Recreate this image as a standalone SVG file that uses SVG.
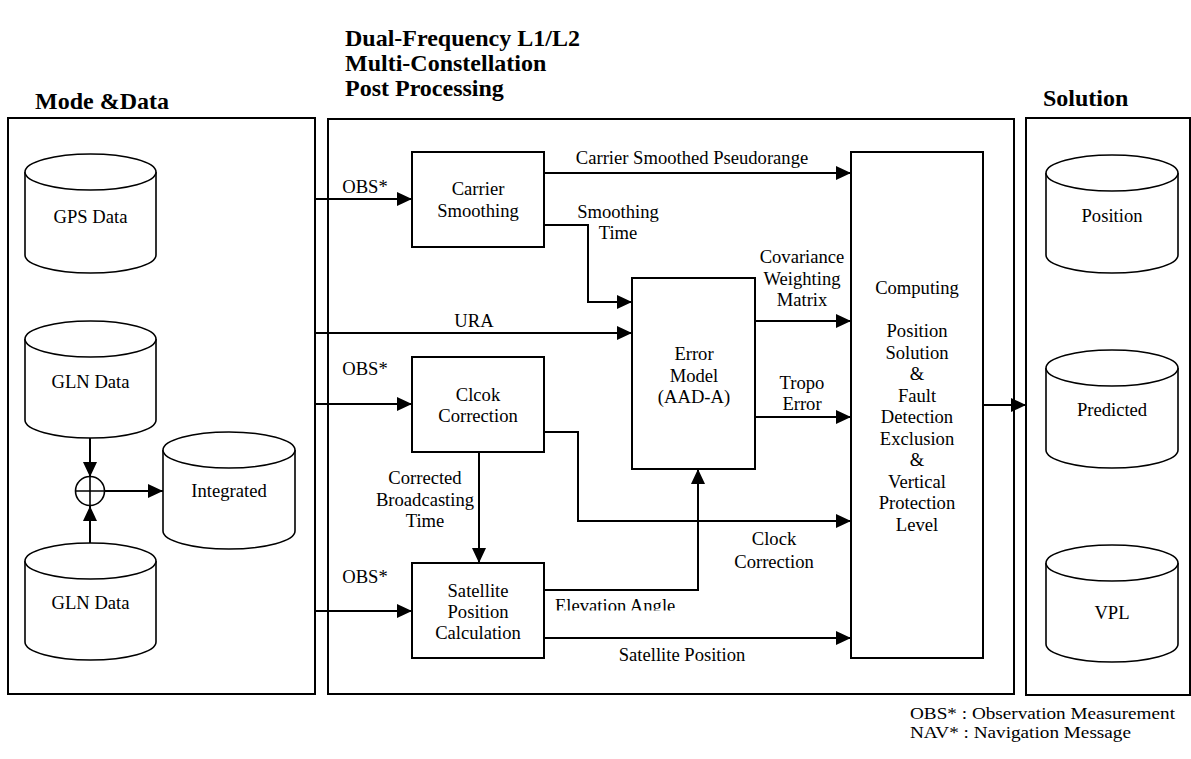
<svg xmlns="http://www.w3.org/2000/svg" width="1191" height="759" viewBox="0 0 1191 759">
<style>
  text { font-family: "Liberation Serif", "Times New Roman", serif; fill: #000; }
  .t { font-size: 18.6px; }
  .c { text-anchor: middle; }
  .title { font-size: 24px; font-weight: bold; }
  .legend { font-size: 16.5px; }
  .panel { fill: none; stroke: #000; stroke-width: 2; }
  .box { fill: #fff; stroke: #000; stroke-width: 2; }
  .cyl { fill: #fff; stroke: #000; stroke-width: 1.6; }
  .ar { fill: none; stroke: #000; stroke-width: 2; marker-end: url(#ah); }
</style>
<defs>
  <marker id="ah" markerUnits="userSpaceOnUse" markerWidth="16" markerHeight="15" refX="15" refY="7" orient="auto" viewBox="0 0 16 15">
    <path d="M0,0 L15,7 L0,14 Z" fill="#000"/>
  </marker>
  <clipPath id="elevClip"><rect x="540" y="590" width="160" height="20.5"/></clipPath>
</defs>

<rect width="1191" height="759" fill="#fff"/>

<!-- Titles -->
<g id="titles">
  <text class="title" x="345" y="46">Dual-Frequency L1/L2</text>
  <text class="title" x="345" y="71">Multi-Constellation</text>
  <text class="title" x="345" y="96">Post Processing</text>
  <text class="title" x="35" y="109">Mode &amp;Data</text>
  <text class="title" x="1043" y="106">Solution</text>
</g>

<!-- Panels -->
<g id="panel-mode-data"><rect class="panel" x="8" y="118" width="307" height="576"/></g>
<g id="panel-processing"><rect class="panel" x="328" y="119" width="686" height="575"/></g>
<g id="panel-solution"><rect class="panel" x="1026" y="118" width="164" height="577"/></g>

<!-- Connectors -->
<g id="connectors">
  <path class="ar" d="M90,438 V477"/>
  <path class="ar" d="M90,543 V506"/>
  <path class="ar" d="M105,491 H163"/>
  <path class="ar" d="M315,199 H412"/>
  <path class="ar" d="M315,333 H632"/>
  <path class="ar" d="M315,404 H412"/>
  <path class="ar" d="M315,611 H412"/>
  <path class="ar" d="M544,173 H851"/>
  <path class="ar" d="M544,225 H588 V302 H632"/>
  <path class="ar" d="M755,321 H851"/>
  <path class="ar" d="M755,417 H851"/>
  <path class="ar" d="M544,432 H578 V521 H851"/>
  <path class="ar" d="M479,452 V563"/>
  <path class="ar" d="M544,590 H698 V469"/>
  <path class="ar" d="M544,638 H851"/>
  <path class="ar" d="M983,405 H1026"/>
  <text class="t c" x="365" y="193">OBS*</text>
  <text class="t c" x="365" y="375">OBS*</text>
  <text class="t c" x="365" y="583">OBS*</text>
  <text class="t c" x="474" y="327">URA</text>
  <text class="t c" x="692" y="164">Carrier Smoothed Pseudorange</text>
  <text class="t c" x="618" y="218">Smoothing</text>
  <text class="t c" x="618" y="239">Time</text>
  <text class="t c" x="802" y="263">Covariance</text>
  <text class="t c" x="802" y="284.5">Weighting</text>
  <text class="t c" x="802" y="306">Matrix</text>
  <text class="t c" x="802" y="389">Tropo</text>
  <text class="t c" x="802" y="410">Error</text>
  <text class="t c" x="425" y="484">Corrected</text>
  <text class="t c" x="425" y="506">Broadcasting</text>
  <text class="t c" x="425" y="527">Time</text>
  <text class="t" x="555" y="612" clip-path="url(#elevClip)">Elevation Angle</text>
  <text class="t c" x="774" y="545">Clock</text>
  <text class="t c" x="774" y="568">Correction</text>
  <text class="t c" x="682" y="661">Satellite Position</text>
</g>

<!-- Left data cylinders -->
<g id="gps-data">
  <path class="cyl" d="M25,172 A65.5,18 0 0,1 156,172 V255 A65.5,18 0 0,1 25,255 Z"/>
  <path class="cyl" d="M25,172 A65.5,18 0 0,0 156,172"/>
  <text class="t c" x="90.5" y="223">GPS Data</text>
</g>
<g id="gln-data-1">
  <path class="cyl" d="M25,339 A65.5,18 0 0,1 156,339 V420 A65.5,18 0 0,1 25,420 Z"/>
  <path class="cyl" d="M25,339 A65.5,18 0 0,0 156,339"/>
  <text class="t c" x="90.5" y="388">GLN Data</text>
</g>
<g id="integrator">
  <circle cx="90" cy="491" r="14.5" fill="#fff" stroke="#000" stroke-width="1.6"/>
  <path d="M75.5,491 H104.5 M90,476.5 V505.5" stroke="#000" stroke-width="1.6"/>
</g>
<g id="integrated">
  <path class="cyl" d="M163,450 A66,18 0 0,1 295,450 V531 A66,18 0 0,1 163,531 Z"/>
  <path class="cyl" d="M163,450 A66,18 0 0,0 295,450"/>
  <text class="t c" x="229" y="497">Integrated</text>
</g>
<g id="gln-data-2">
  <path class="cyl" d="M25,561 A65.5,18 0 0,1 156,561 V642 A65.5,18 0 0,1 25,642 Z"/>
  <path class="cyl" d="M25,561 A65.5,18 0 0,0 156,561"/>
  <text class="t c" x="90.5" y="609">GLN Data</text>
</g>

<!-- Processing blocks -->
<g id="carrier-smoothing">
  <rect class="box" x="412" y="152" width="132" height="95"/>
  <text class="t c" x="478" y="195">Carrier</text>
  <text class="t c" x="478" y="217">Smoothing</text>
</g>
<g id="clock-correction">
  <rect class="box" x="412" y="357" width="132" height="95"/>
  <text class="t c" x="478" y="401">Clcok</text>
  <text class="t c" x="478" y="422">Correction</text>
</g>
<g id="satellite-position">
  <rect class="box" x="412" y="563" width="132" height="95"/>
  <text class="t c" x="478" y="597">Satellite</text>
  <text class="t c" x="478" y="618">Position</text>
  <text class="t c" x="478" y="639">Calculation</text>
</g>
<g id="error-model">
  <rect class="box" x="632" y="278" width="123" height="191"/>
  <text class="t c" x="694" y="360">Error</text>
  <text class="t c" x="694" y="381.5">Model</text>
  <text class="t c" x="694" y="403">(AAD-A)</text>
</g>
<g id="computing">
  <rect class="box" x="851" y="152" width="132" height="506"/>
  <text class="t c" x="917" y="294">Computing</text>
  <text class="t c" x="917" y="337">Position</text>
  <text class="t c" x="917" y="358.5">Solution</text>
  <text class="t c" x="917" y="380">&amp;</text>
  <text class="t c" x="917" y="401.5">Fault</text>
  <text class="t c" x="917" y="423">Detection</text>
  <text class="t c" x="917" y="444.5">Exclusion</text>
  <text class="t c" x="917" y="466">&amp;</text>
  <text class="t c" x="917" y="487.5">Vertical</text>
  <text class="t c" x="917" y="509">Protection</text>
  <text class="t c" x="917" y="530.5">Level</text>
</g>

<!-- Solution cylinders -->
<g id="position">
  <path class="cyl" d="M1046,173 A66,18 0 0,1 1178,173 V255 A66,18 0 0,1 1046,255 Z"/>
  <path class="cyl" d="M1046,173 A66,18 0 0,0 1178,173"/>
  <text class="t c" x="1112" y="222">Position</text>
</g>
<g id="predicted">
  <path class="cyl" d="M1046,368 A66,18 0 0,1 1178,368 V450 A66,18 0 0,1 1046,450 Z"/>
  <path class="cyl" d="M1046,368 A66,18 0 0,0 1178,368"/>
  <text class="t c" x="1112" y="416">Predicted</text>
</g>
<g id="vpl">
  <path class="cyl" d="M1046,563 A66,18 0 0,1 1178,563 V644 A66,18 0 0,1 1046,644 Z"/>
  <path class="cyl" d="M1046,563 A66,18 0 0,0 1178,563"/>
  <text class="t c" x="1112" y="619">VPL</text>
</g>

<!-- Legend -->
<g id="legend">
  <text class="legend" x="910" y="719" textLength="265" lengthAdjust="spacingAndGlyphs">OBS* : Observation Measurement</text>
  <text class="legend" x="910" y="738" textLength="221" lengthAdjust="spacingAndGlyphs">NAV* : Navigation Message</text>
</g>
</svg>
